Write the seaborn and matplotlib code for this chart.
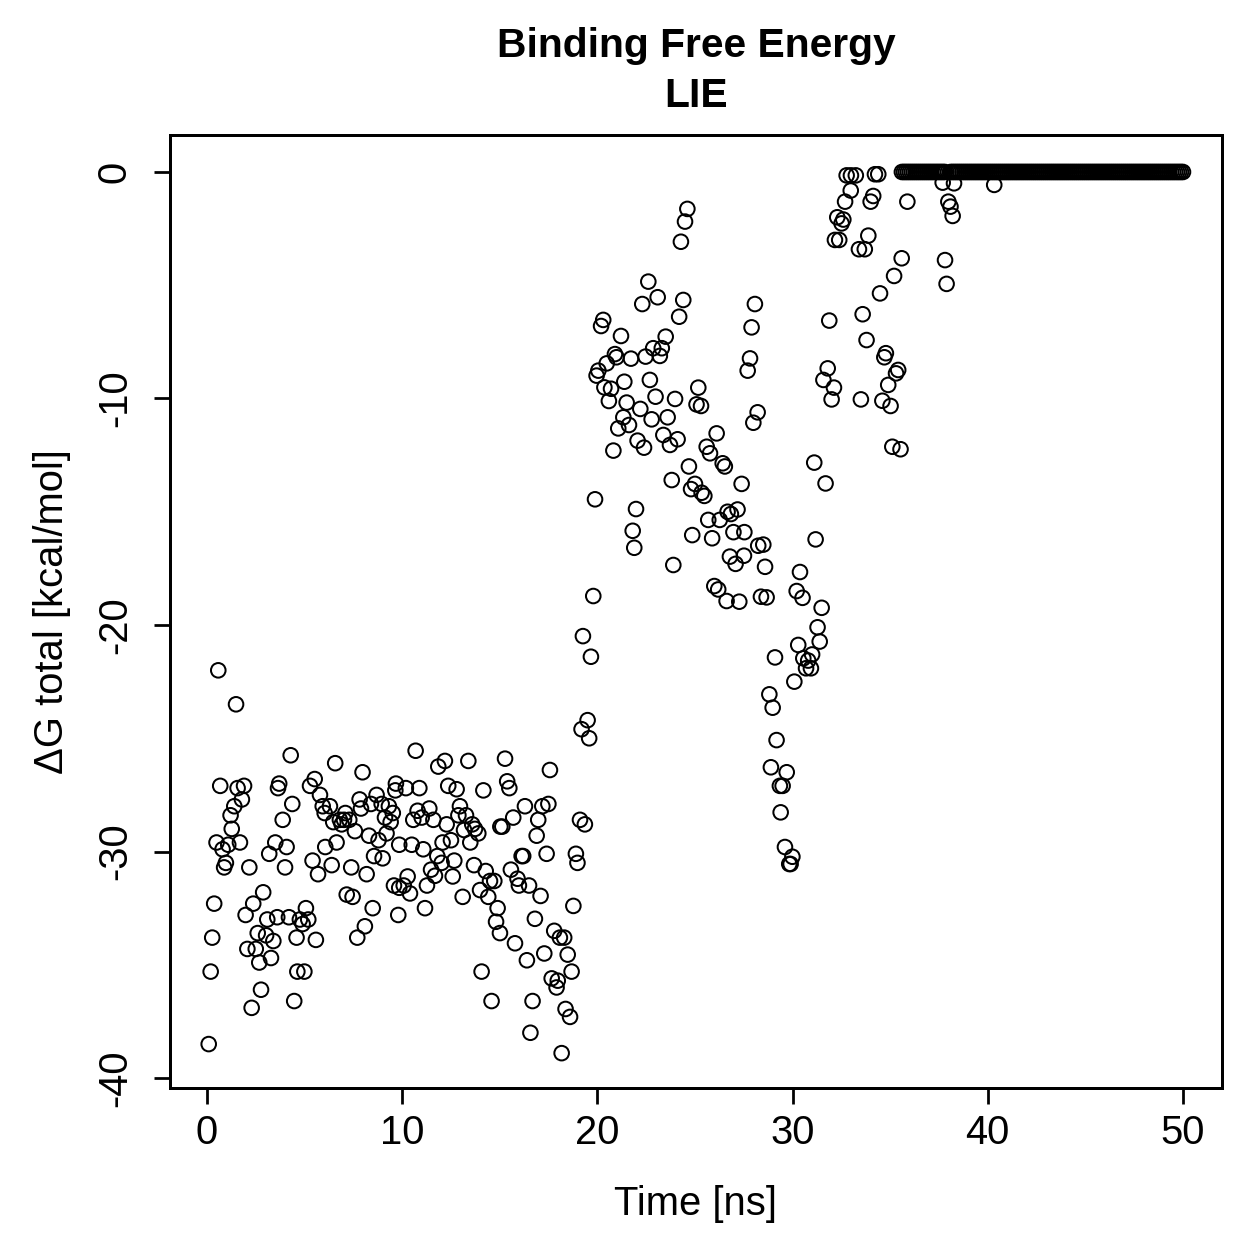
import matplotlib
matplotlib.use("Agg")
import matplotlib.pyplot as plt
import pandas as pd
import seaborn as sns

# 0-20 ns: bound state, dG scattered around -30
early_t = [0.58, 1.49, 4.29, 6.57, 7.97, 0.68, 1.57, 1.90, 1.79, 1.40,
           1.21, 1.27, 0.49, 0.80, 1.09, 1.69, 0.97, 0.88, 2.17, 3.70,
           3.64, 4.37, 3.88, 3.50, 4.08, 3.19, 4.00, 5.28, 5.52, 5.79,
           5.93, 6.30, 6.03, 6.47, 6.81, 7.02, 7.09, 7.29, 6.90, 7.58,
           7.82, 7.89, 8.40, 8.69, 8.95, 9.32, 9.12, 9.52, 9.41, 9.20,
           8.79, 8.30, 9.68, 9.65, 6.64, 6.06, 5.41, 5.69, 6.39, 7.39,
           8.18, 8.56, 9.00, 9.85, 9.58, 9.85, 9.80, 7.16, 7.46, 8.49,
           8.09, 7.70, 0.37, 0.27, 0.19, 0.09, 2.88, 2.37, 1.98, 3.09,
           3.60, 4.20, 4.76, 5.07, 5.19, 4.90, 2.60, 3.03, 3.40, 4.59,
           5.58, 2.07, 2.50, 2.68, 3.28, 4.63, 4.99, 2.77, 2.29, 4.47,
           19.67, 19.50, 19.19, 19.58, 10.69, 11.85, 12.19, 13.39, 15.27, 17.57,
           10.19, 10.88, 12.36, 12.79, 14.16, 15.38, 15.49, 16.29, 17.18, 17.49,
           16.97, 15.69, 15.13, 15.03, 16.89, 19.11, 19.36, 16.12, 16.20, 17.40,
           18.90, 18.98, 18.77, 10.79, 10.57, 11.00, 11.39, 11.60, 12.28, 12.96,
           12.88, 13.27, 13.17, 13.59, 13.73, 13.90, 13.49, 12.07, 12.50, 10.49,
           11.08, 11.80, 12.02, 11.48, 11.68, 12.67, 12.59, 13.68, 14.28, 14.50,
           14.72, 13.99, 14.41, 13.10, 15.57, 15.91, 15.98, 16.50, 17.09, 14.89,
           14.81, 15.01, 15.78, 16.39, 16.80, 17.28, 17.79, 18.08, 18.30, 18.48,
           18.68, 17.66, 17.97, 17.91, 18.37, 18.60, 14.07, 14.58, 16.68, 16.57,
           18.17, 11.17, 10.28, 10.08, 10.40, 11.27, 19.26]
early_g = [-22.0, -23.5, -25.75, -26.1, -26.5, -27.1, -27.2, -27.1, -27.7, -28.0,
           -28.4, -29.0, -29.6, -29.9, -29.7, -29.6, -30.5, -30.7, -30.7, -27.0,
           -27.2, -27.9, -28.6, -29.6, -29.8, -30.1, -30.7, -27.1, -26.8, -27.5,
           -28.0, -28.0, -28.3, -28.7, -28.6, -28.6, -28.3, -28.6, -28.8, -29.1,
           -27.7, -28.1, -27.9, -27.5, -27.9, -28.0, -28.5, -28.3, -28.7, -29.2,
           -29.5, -29.3, -27.0, -27.3, -29.6, -29.8, -30.4, -31.0, -30.6, -30.7,
           -31.0, -30.2, -30.3, -29.7, -31.5, -31.6, -32.8, -31.9, -32.0, -32.5,
           -33.3, -33.8, -32.3, -33.8, -35.3, -38.5, -31.8, -32.3, -32.8, -33.0,
           -32.9, -32.9, -33.0, -32.5, -33.0, -33.2, -33.6, -33.7, -33.95, -33.8,
           -33.9, -34.3, -34.3, -34.9, -34.7, -35.3, -35.3, -36.1, -36.9, -36.6,
           -21.4, -24.2, -24.6, -25.0, -25.55, -26.25, -26.0, -26.0, -25.9, -26.4,
           -27.2, -27.2, -27.1, -27.25, -27.3, -26.9, -27.2, -28.0, -28.0, -27.9,
           -28.6, -28.5, -28.9, -28.9, -29.3, -28.6, -28.8, -30.2, -30.2, -30.1,
           -30.1, -30.5, -32.4, -28.2, -28.6, -28.5, -28.1, -28.6, -28.8, -28.0,
           -28.4, -28.4, -29.05, -28.8, -29.0, -29.2, -29.6, -29.6, -29.5, -29.7,
           -29.9, -30.2, -30.5, -30.8, -31.07, -30.4, -31.1, -30.6, -30.86, -31.3,
           -31.3, -31.7, -32.0, -32.0, -30.8, -31.2, -31.5, -31.5, -31.96, -32.5,
           -33.1, -33.6, -34.05, -34.8, -32.97, -34.5, -33.5, -33.8, -33.8, -34.55,
           -35.3, -35.6, -35.7, -36.0, -36.95, -37.3, -35.3, -36.6, -36.6, -38.0,
           -38.9, -32.5, -31.1, -31.5, -31.85, -31.5, -20.49]

# 20-36 ns: unbinding
mid_t = [24.61, 24.49, 24.28, 22.61, 23.09, 22.30, 24.40, 24.19, 28.07, 27.90,
         27.82, 27.70, 20.30, 20.19, 21.21, 23.50, 23.30, 22.86, 23.20, 22.47,
         21.72, 20.90, 20.98, 20.48, 20.05, 19.96, 21.38, 22.69, 20.36, 20.70,
         20.59, 21.50, 22.98, 23.98, 25.17, 25.08, 25.31, 22.20, 22.78, 23.60,
         21.33, 21.62, 21.07, 22.06, 22.39, 20.82, 23.38, 23.72, 24.11, 26.11,
         25.60, 25.77, 26.42, 26.53, 24.69, 23.81, 25.00, 24.80, 25.34, 25.48,
         27.39, 19.88, 21.98, 21.81, 21.89, 25.68, 26.27, 26.67, 26.84, 27.18,
         24.86, 25.88, 26.97, 27.53, 23.89, 26.79, 27.08, 27.51, 28.24, 25.99,
         26.19, 26.62, 27.27, 19.79, 28.21,
         27.99, 31.11, 31.69, 28.50, 28.59, 31.18, 30.38, 30.21, 30.51, 31.49,
         28.38, 28.67, 31.28, 31.39, 30.29, 31.00, 30.55, 30.80, 30.69, 30.94,
         29.10, 30.09, 28.81, 28.98, 29.18, 28.89, 29.70, 29.35, 29.49, 29.39,
         29.61, 29.99, 29.83, 29.90,
         32.77, 32.99, 33.24, 34.22, 34.39, 32.98, 32.69, 34.13, 34.00, 35.88,
         37.69, 38.27, 40.33, 37.98, 38.09, 38.20, 32.29, 32.60, 32.51, 32.17,
         32.39, 33.88, 33.40, 33.70, 35.59, 37.81, 37.89, 35.20, 34.48, 31.88,
         33.59, 33.79, 34.78, 34.70, 35.41, 35.30, 34.90, 31.80, 31.58, 32.12,
         32.00, 33.50, 34.60, 35.02, 35.11, 35.53]
mid_g = [-1.63, -2.19, -3.08, -4.84, -5.53, -5.83, -5.65, -6.39, -5.83, -6.86,
         -8.23, -8.77, -6.53, -6.80, -7.24, -7.27, -7.78, -7.78, -8.12, -8.15,
         -8.24, -8.04, -8.18, -8.45, -8.77, -8.99, -9.26, -9.18, -9.51, -9.57,
         -10.11, -10.18, -9.92, -10.02, -9.52, -10.26, -10.33, -10.46, -10.92, -10.83,
         -10.83, -11.17, -11.32, -11.86, -12.17, -12.30, -11.61, -12.05, -11.80, -11.54,
         -12.13, -12.42, -12.86, -13.00, -13.00, -13.60, -13.77, -14.00, -14.16, -14.30,
         -13.77, -14.45, -14.88, -15.84, -16.59, -15.36, -15.36, -15.00, -15.10, -14.90,
         -16.03, -16.17, -15.90, -15.90, -17.35, -16.98, -17.30, -16.94, -16.50, -18.28,
         -18.43, -18.94, -18.97, -18.72, -10.61,
         -11.07, -12.83, -13.75, -16.45, -17.43, -16.22, -17.66, -18.50, -18.80, -19.24,
         -18.75, -18.78, -20.10, -20.73, -20.88, -21.30, -21.47, -21.57, -21.91, -21.91,
         -21.43, -22.50, -23.06, -23.65, -25.08, -26.28, -26.50, -27.10, -27.10, -28.27,
         -29.80, -30.23, -30.55, -30.55,
         -0.15, -0.15, -0.15, -0.10, -0.10, -0.82, -1.31, -1.06, -1.31, -1.31,
         -0.47, -0.50, -0.57, -1.31, -1.53, -1.94, -2.00, -2.10, -2.27, -3.00,
         -3.00, -2.81, -3.41, -3.41, -3.81, -3.89, -4.94, -4.59, -5.36, -6.56,
         -6.28, -7.42, -8.00, -8.18, -8.74, -8.89, -9.40, -8.67, -9.18, -9.52,
         -10.04, -10.04, -10.10, -10.33, -12.13, -12.24]

# 35.6-50 ns: ligand gone, dG = 0
flat_t = [35.6, 35.7, 35.8, 35.9, 36.0, 36.1, 36.2, 36.3, 36.4, 36.5, 36.6,
          36.7, 36.8, 36.9, 37.0, 37.1, 37.2, 37.3, 37.4, 37.5, 37.6, 37.7, 37.8,
          38.1, 38.2, 38.3, 38.4, 38.5, 38.6, 38.7, 38.8, 38.9, 39.0, 39.1, 39.2,
          39.3, 39.4, 39.5, 39.6, 39.7, 39.8, 39.9, 40.0, 40.1, 40.2, 40.3, 40.4,
          40.5, 40.6, 40.7, 40.8, 40.9, 41.0, 41.1, 41.2, 41.3, 41.4, 41.5, 41.6,
          41.7, 41.8, 41.9, 42.0, 42.1, 42.2, 42.3, 42.4, 42.5, 42.6, 42.7, 42.8,
          42.9, 43.0, 43.1, 43.2, 43.3, 43.4, 43.5, 43.6, 43.7, 43.8, 43.9, 44.0,
          44.1, 44.2, 44.3, 44.4, 44.5, 44.6, 44.7, 44.8, 44.9, 45.0, 45.1, 45.2,
          45.3, 45.4, 45.5, 45.6, 45.7, 45.8, 45.9, 46.0, 46.1, 46.2, 46.3, 46.4,
          46.5, 46.6, 46.7, 46.8, 46.9, 47.0, 47.1, 47.2, 47.3, 47.4, 47.5, 47.6,
          47.7, 47.8, 47.9, 48.0, 48.1, 48.2, 48.3, 48.4, 48.5, 48.6, 48.7, 48.8,
          48.9, 49.0, 49.1, 49.2, 49.3, 49.4, 49.5, 49.6, 49.7, 49.8, 49.9, 50.0]
flat_g = [0.0, 0.0, 0.0, 0.0, 0.0, 0.0, 0.0, 0.0, 0.0, 0.0, 0.0,
          0.0, 0.0, 0.0, 0.0, 0.0, 0.0, 0.0, 0.0, 0.0, 0.0, 0.0, 0.0,
          0.0, 0.0, 0.0, 0.0, 0.0, 0.0, 0.0, 0.0, 0.0, 0.0, 0.0, 0.0,
          0.0, 0.0, 0.0, 0.0, 0.0, 0.0, 0.0, 0.0, 0.0, 0.0, 0.0, 0.0,
          0.0, 0.0, 0.0, 0.0, 0.0, 0.0, 0.0, 0.0, 0.0, 0.0, 0.0, 0.0,
          0.0, 0.0, 0.0, 0.0, 0.0, 0.0, 0.0, 0.0, 0.0, 0.0, 0.0, 0.0,
          0.0, 0.0, 0.0, 0.0, 0.0, 0.0, 0.0, 0.0, 0.0, 0.0, 0.0, 0.0,
          0.0, 0.0, 0.0, 0.0, 0.0, 0.0, 0.0, 0.0, 0.0, 0.0, 0.0, 0.0,
          0.0, 0.0, 0.0, 0.0, 0.0, 0.0, 0.0, 0.0, 0.0, 0.0, 0.0, 0.0,
          0.0, 0.0, 0.0, 0.0, 0.0, 0.0, 0.0, 0.0, 0.0, 0.0, 0.0, 0.0,
          0.0, 0.0, 0.0, 0.0, 0.0, 0.0, 0.0, 0.0, 0.0, 0.0, 0.0, 0.0,
          0.0, 0.0, 0.0, 0.0, 0.0, 0.0, 0.0, 0.0, 0.0, 0.0, 0.0, 0.0]

x_ticks = [0, 10, 20, 30, 40, 50]
y_ticks = [-40, -30, -20, -10, 0]

df = pd.DataFrame({"time": early_t + mid_t + flat_t,
                   "dG": early_g + mid_g + flat_g})

sns.set_style("ticks")
plt.rcParams["font.family"] = ["Liberation Sans", "DejaVu Sans"]
plt.rcParams["text.color"] = "black"
plt.rcParams["axes.labelcolor"] = "black"

fig = plt.figure(figsize=(1259 / 180, 1259 / 180), dpi=180)
ax = fig.add_axes([0.135, 0.1358, 0.8356, 0.757])

sns.scatterplot(data=df, x="time", y="dG", ax=ax, marker="o", s=34,
                facecolor="none", edgecolor="black", linewidth=0.8)

ax.set_xlim(-1.895, 51.998)
ax.set_ylim(-40.44, 1.634)
ax.set_xticks(x_ticks)
ax.set_yticks(y_ticks)
ax.set_yticklabels([str(v) for v in y_ticks], rotation=90, va="center")

for s in ax.spines.values():
    s.set_visible(True)
    s.set_linewidth(1.2)
    s.set_color("black")
ax.tick_params(direction="out", length=6.4, width=1.1, labelsize=16, colors="black")
ax.tick_params(axis="x", pad=4)
ax.tick_params(axis="y", pad=8)

ax.set_xlabel("Time [ns]", fontsize=16, labelpad=13, color="black")
ax.set_ylabel("ΔG total [kcal/mol]", fontsize=16, labelpad=10, color="black")
ax.set_title("Binding Free Energy\nLIE", fontsize=16.3, fontweight="bold",
             pad=11, color="black", linespacing=1.4)

fig.savefig("out.png", dpi=180, facecolor="white")
